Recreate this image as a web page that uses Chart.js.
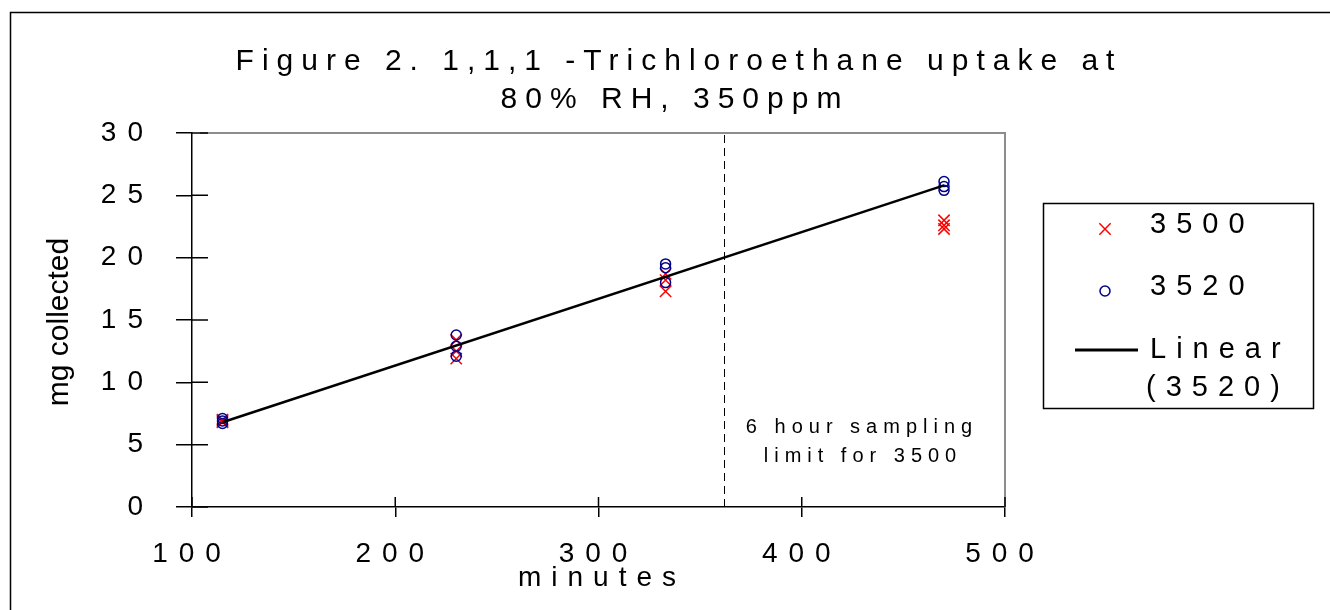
<!DOCTYPE html>
<html>
<head>
<meta charset="utf-8">
<title>1,1,1-Trichloroethane uptake</title>
<script src="https://cdn.jsdelivr.net/npm/chart.js@4.4.1/dist/chart.umd.min.js"></script>
<style>
  html, body { margin: 0; padding: 0; background: #fff; }
  #wrap { width: 1330px; height: 610px; position: relative; }
</style>
</head>
<body>
<div id="wrap"><canvas id="chart"></canvas></div>
<script>
// datos
const minutos = [115, 115, 115, 230, 230, 230, 333, 333, 333, 470, 470, 470];
const mg3500  = [6.8, 6.9, 7.0, 11.9, 12.5, 13.4, 17.3, 18.2, 18.7, 22.3, 22.6, 23.0];
const mg3520  = [6.7, 6.9, 7.1, 12.1, 12.9, 13.8, 18.0, 19.2, 19.5, 25.4, 25.7, 26.1];
const lineaX  = [115, 470];
const lineaY  = [6.8, 25.8];
const limiteX = [362, 362];
const limiteY = [0, 30];
const ticksX  = [100, 200, 300, 400, 500];
const ticksY  = [0, 5, 10, 15, 20, 25, 30];

const TITULO = ['Figure 2. 1,1,1 -Trichloroethane uptake at', '80% RH, 350ppm'];
const FUENTE = '"Liberation Sans", Arial, sans-serif';

const puntos = (xs, ys) => xs.map((x, i) => ({ x, y: ys[i] }));

function texto(ctx, s, x, y, size, esp, align = 'center') {
  ctx.save();
  ctx.font = `${size}px ${FUENTE}`;
  ctx.letterSpacing = esp + 'px';
  ctx.textAlign = align;
  ctx.textBaseline = 'middle';
  ctx.fillStyle = '#000';
  ctx.fillText(s, align === 'center' ? x + esp / 2 : x, y);
  ctx.restore();
}

function marcador(ctx, ds, radio, x, y) {
  ctx.save();
  ctx.strokeStyle = ds.borderColor;
  ctx.fillStyle = 'rgba(0,0,0,0)';
  ctx.lineWidth = ds.borderWidth;
  Chart.helpers.drawPoint(ctx, { pointStyle: ds.pointStyle, radius: radio, borderWidth: ds.borderWidth }, x, y);
  ctx.restore();
}

const decoracion = {
  id: 'decoracion',
  beforeLayout(chart) { chart.ctx.letterSpacing = '11px'; },
  beforeDraw(chart) {
    const ctx = chart.ctx;
    ctx.save();
    ctx.fillStyle = '#fff';
    ctx.fillRect(0, 0, chart.width, chart.height);
    // marco exterior
    ctx.strokeStyle = '#000';
    ctx.lineWidth = 1.5;
    ctx.beginPath();
    ctx.moveTo(10.5, 610); ctx.lineTo(10.5, 12.5); ctx.lineTo(1330, 12.5);
    ctx.stroke();
    ctx.restore();
    ctx.letterSpacing = '11px';
  },
  afterDraw(chart) {
    const ctx = chart.ctx;
    const a = chart.chartArea;
    const sx = chart.scales.x, sy = chart.scales.y;
    ctx.letterSpacing = '0px';
    ctx.save();
    // borde superior y derecho del area
    ctx.strokeStyle = '#8c8c8c';
    ctx.lineWidth = 2;
    ctx.beginPath();
    ctx.moveTo(a.left + 8, a.top); ctx.lineTo(a.right, a.top); ctx.lineTo(a.right, a.bottom);
    ctx.stroke();
    // mitad interior de las marcas
    ctx.strokeStyle = '#000';
    ctx.lineWidth = 1.5;
    ctx.beginPath();
    sx.ticks.forEach(t => {
      const px = sx.getPixelForValue(t.value);
      ctx.moveTo(px, a.bottom); ctx.lineTo(px, a.bottom - 10);
    });
    sy.ticks.forEach(t => {
      const py = sy.getPixelForValue(t.value);
      ctx.moveTo(a.left, py); ctx.lineTo(a.left + 16, py);
    });
    ctx.stroke();
    ctx.restore();

    // titulo
    texto(ctx, TITULO[0], 675, 62, 30, 8);
    texto(ctx, TITULO[1], 671, 100, 30, 8);
    // ejes
    texto(ctx, 'minutes', 597, 578, 28, 10);
    ctx.save();
    ctx.translate(60, 322);
    ctx.rotate(-Math.PI / 2);
    texto(ctx, 'mg collected', 0, 0, 30, 0);
    ctx.restore();
    // nota del limite
    texto(ctx, '6 hour sampling', 859, 427, 20, 6);
    texto(ctx, 'limit for 3500', 860, 456, 20, 6);

    // leyenda
    const ds = chart.data.datasets;
    ctx.save();
    ctx.strokeStyle = '#000';
    ctx.lineWidth = 1.5;
    ctx.strokeRect(1043.5, 203.5, 270, 205);
    ctx.lineWidth = 3;
    ctx.beginPath(); ctx.moveTo(1075, 350); ctx.lineTo(1138, 350); ctx.stroke();
    ctx.restore();
    marcador(ctx, ds[2], 8, 1105, 229);
    marcador(ctx, ds[1], 5, 1105, 291);
    texto(ctx, ds[2].label, 1150, 225, 29, 10, 'left');
    texto(ctx, ds[1].label, 1150, 287, 29, 10, 'left');
    texto(ctx, 'Linear', 1150, 350, 29, 10, 'left');
    texto(ctx, '(3520)', 1146, 388, 29, 10, 'left');
  }
};

const ejeTicks = { font: { family: FUENTE, size: 28 }, color: '#000' };

new Chart(document.getElementById('chart'), {
  type: 'scatter',
  data: {
    datasets: [
      {
        label: 'Linear (3520)', type: 'line', data: puntos(lineaX, lineaY),
        borderColor: '#000', borderWidth: 2.5, pointRadius: 0, fill: false, order: 0
      },
      {
        label: '3520', data: puntos(minutos, mg3520),
        pointStyle: 'circle', pointRadius: 5, borderColor: '#00008b', borderWidth: 1.5,
        backgroundColor: 'rgba(0,0,0,0)', order: 1
      },
      {
        label: '3500', data: puntos(minutos, mg3500),
        pointStyle: 'crossRot', pointRadius: 8, borderColor: '#ff0000', borderWidth: 1.5,
        backgroundColor: '#ff0000', order: 2
      },
      {
        label: 'limite', type: 'line', data: puntos(limiteX, limiteY),
        borderColor: '#000', borderWidth: 1, borderDash: [8, 5], pointRadius: 0, fill: false, order: 3
      }
    ]
  },
  options: {
    responsive: true,
    maintainAspectRatio: false,
    animation: false,
    events: [],
    layout: { padding: { left: 0, right: 325, top: 133, bottom: 0 } },
    plugins: { legend: { display: false }, title: { display: false }, tooltip: { enabled: false } },
    scales: {
      x: {
        type: 'linear', min: 100, max: 500,
        afterBuildTicks: (s) => { s.ticks = ticksX.map(v => ({ value: v })); },
        afterFit: (s) => { s.height = 103; },
        ticks: { ...ejeTicks, padding: 20, maxRotation: 0 },
        grid: { drawOnChartArea: false, drawTicks: true, tickLength: 10, color: '#000', lineWidth: 1.5 },
        border: { color: '#000', width: 1.5 }
      },
      y: {
        type: 'linear', min: 0, max: 30,
        afterBuildTicks: (s) => { s.ticks = ticksY.map(v => ({ value: v })); },
        afterFit: (s) => { s.width = 192; },
        ticks: { ...ejeTicks, padding: 22 },
        grid: { drawOnChartArea: false, drawTicks: true, tickLength: 16, color: '#000', lineWidth: 1.5 },
        border: { color: '#000', width: 1.5 }
      }
    }
  },
  plugins: [decoracion]
});
</script>
</body>
</html>
